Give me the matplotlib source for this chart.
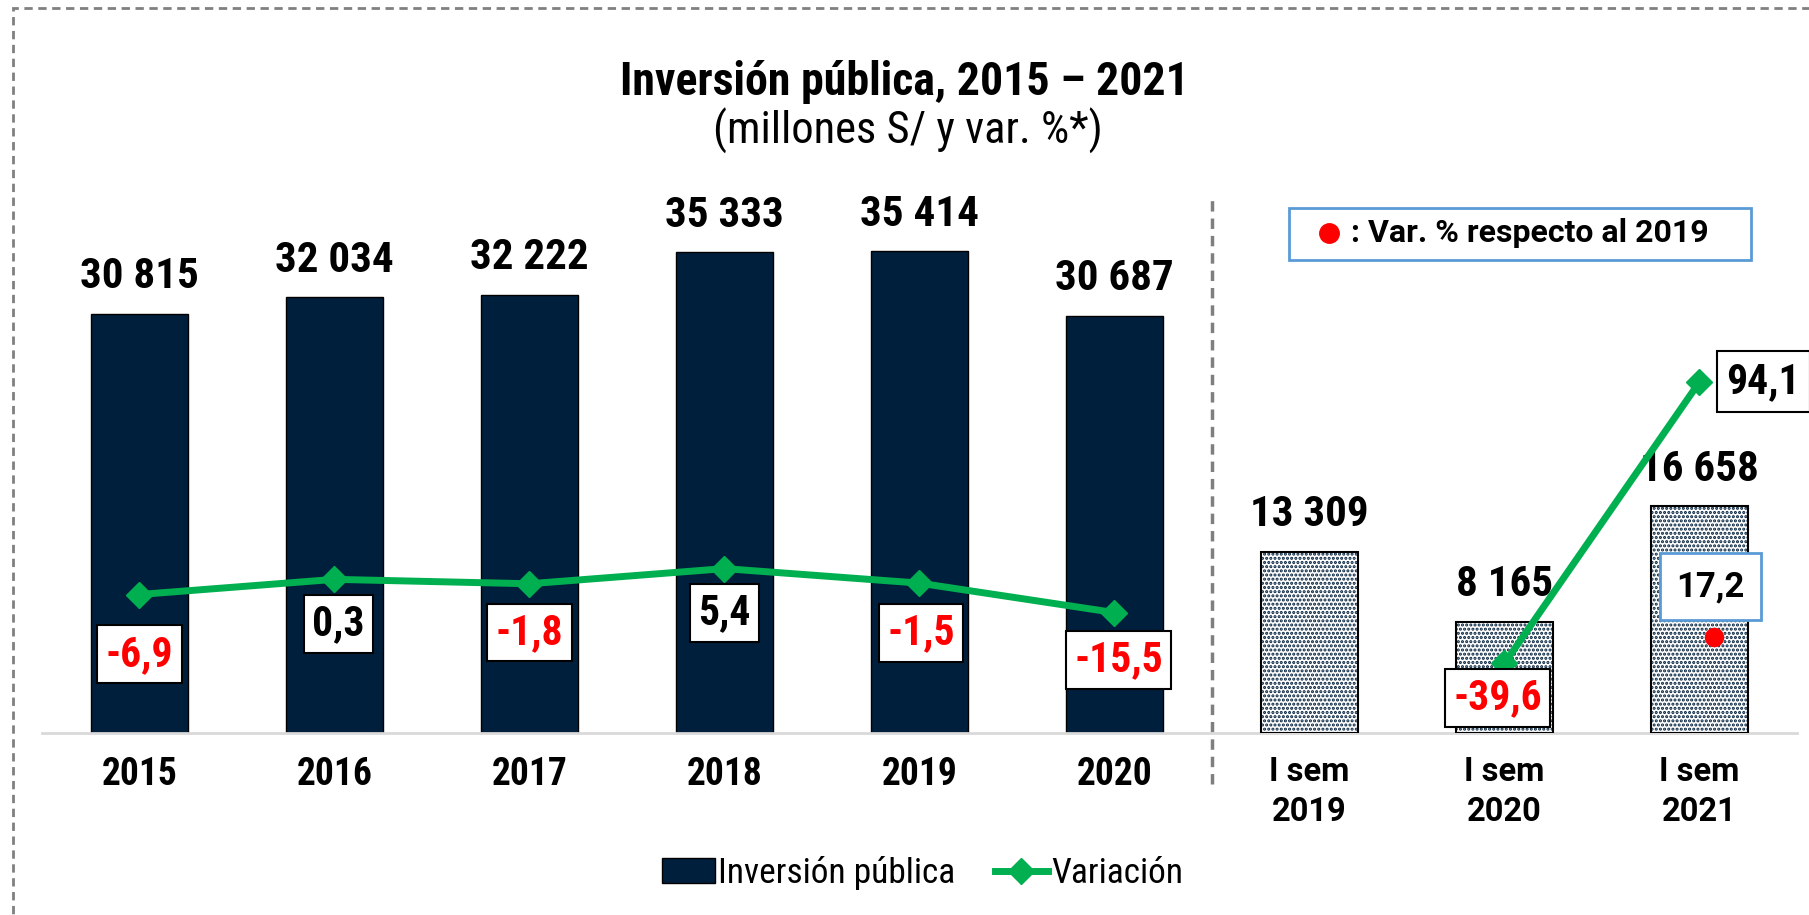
import matplotlib
matplotlib.use("Agg")
import matplotlib.pyplot as plt
from matplotlib import font_manager
from matplotlib.lines import Line2D
from matplotlib.patches import Patch, Rectangle
import matplotlib.transforms as mtransforms

# datos
periodos = ["2015", "2016", "2017", "2018", "2019", "2020",
            "I sem\n2019", "I sem\n2020", "I sem\n2021"]
inversion = [30815, 32034, 32222, 35333, 35414, 30687, 13309, 8165, 16658]
var_anual = [-6.9, 0.3, -1.8, 5.4, -1.5, -15.5]
var_sem = [-39.6, 94.1]          # I sem 2020, I sem 2021
var_vs_2019 = [17.2]             # I sem 2021 respecto a I sem 2019

names = {f.name for f in font_manager.fontManager.ttflist}
if "Roboto Condensed" in names:
    cond = "Roboto Condensed"
elif "Liberation Sans Narrow" in names:
    cond = "Liberation Sans Narrow"
else:
    cond = "Roboto"
plt.rcParams["font.family"] = [cond, "DejaVu Sans"]
wide = ["Roboto", "DejaVu Sans"]

navy = "#001F3C"
green = "#00B050"
red = "#FF0000"
blue_edge = "#5B9BD5"


def fmt_miles(v):
    return f"{v:,}".replace(",", " ")


def fmt_pct(v):
    return f"{v:.1f}".replace(".", ",")


fig = plt.figure(figsize=(18.09, 9.15), dpi=100)
ax = fig.add_axes([42 / 1809, 1 - 732.6 / 915, 1755 / 1809, 532.6 / 915])

n_anual = len(var_anual)
x = list(range(len(periodos)))
x_anual = x[:n_anual]
x_sem = x[n_anual:]

# barras anuales
ax.bar(x_anual, inversion[:n_anual], width=0.5, color=navy,
       edgecolor="black", linewidth=1, zorder=2)
# barras semestrales (punteadas)
plt.rcParams["hatch.linewidth"] = 1.5
ax.bar(x_sem, inversion[n_anual:], width=0.5, color="white",
       edgecolor=navy, hatch="....", linewidth=0, zorder=2)
ax.bar(x_sem, inversion[n_anual:], width=0.5, fill=False,
       edgecolor="black", linewidth=1.5, zorder=3)

for xi, v in zip(x, inversion):
    ax.annotate(fmt_miles(v), (xi, v), xytext=(0, 12), textcoords="offset points",
                ha="center", va="bottom", fontsize=31, fontweight="bold")

ax.set_xlim(-0.5, 8.5)
ax.set_ylim(0, 39190)
ax.set_yticks([])
for s in ["top", "right", "left"]:
    ax.spines[s].set_visible(False)
ax.spines["bottom"].set_color("#D9D9D9")
ax.spines["bottom"].set_linewidth(2)
ax.set_xticks(x)
ax.set_xticklabels(periodos)
ax.tick_params(axis="x", length=0, pad=17)
for i, lab in enumerate(ax.get_xticklabels()):
    lab.set_fontweight("bold")
    if i < n_anual:
        lab.set_fontsize(27)
    else:
        lab.set_fontsize(23.5)
        lab.set_family(wide)
        lab.set_linespacing(1.3)

# separador
trans = mtransforms.blended_transform_factory(ax.transData, ax.transAxes)
ax.plot([5.5, 5.5], [-0.097, 1.0], transform=trans, color="#7F7F7F",
        lw=2.5, ls=(0, (3, 2)), clip_on=False, zorder=1)

# variación
ax2 = ax.twinx()
ax2.set_ylim(-72.5, 180.5)
ax2.axis("off")
ax2.plot(x_anual, var_anual, color=green, lw=5, marker="D", ms=13, zorder=4)
ax2.plot(x_sem[1:], var_sem, color=green, lw=5, marker="D", ms=13, zorder=4)

box = dict(boxstyle="square,pad=0.2", fc="white", ec="black", lw=1.5)
offs = [(0, -43), (3, -32), (0, -35), (0, -32), (1, -36), (3, -34)]
for xi, v, o in zip(x_anual + x_sem[1:2], var_anual + var_sem[:1], offs + [(-5, -25)]):
    ax2.annotate(fmt_pct(v), (xi, v), xytext=o, textcoords="offset points",
                 ha="center", va="center", fontsize=30, fontweight="bold",
                 color=red if v < 0 else "black", zorder=6, bbox=box)
ax2.annotate(fmt_pct(var_sem[1]), (x_sem[2], var_sem[1]), xytext=(46, 0),
             textcoords="offset points", ha="center", va="center", fontsize=30,
             fontweight="bold", color="black", zorder=6,
             bbox=dict(boxstyle="square,pad=0.24", fc="white", ec="black", lw=1.5))

# variación respecto al 2019
ax3 = ax.twinx()
ax3.set_ylim(0, 95.4)
ax3.axis("off")
dot_off = mtransforms.offset_copy(ax3.transData, fig=fig, x=15, y=0, units="dots")
ax3.plot([x_sem[2]], var_vs_2019, "o", color=red, ms=13, transform=dot_off, zorder=5)
ax3.annotate(fmt_pct(var_vs_2019[0]), (x_sem[2], var_vs_2019[0]), xytext=(8, 36),
             textcoords="offset points", ha="center", va="center", fontsize=25,
             fontweight="bold", zorder=6, family=wide,
             bbox=dict(boxstyle="square,pad=0.48", fc="white", ec=blue_edge, lw=2))

# nota de la derecha
fig.patches.append(Rectangle((0.7124, 0.7163), 0.2557, 0.0567,
                             transform=fig.transFigure, fc="white",
                             ec=blue_edge, lw=2))
fig.lines.append(Line2D([0.7347], [0.7454], transform=fig.transFigure,
                        ls="none", marker="o", color=red, ms=14))
fig.text(0.7470, 0.7454, ": Var. % respecto al 2019", ha="left", va="center",
         fontsize=23, fontweight="bold", family=wide)

# leyenda inferior
h_bar = Patch(facecolor=navy, edgecolor="black", linewidth=1)
h_line = Line2D([], [], color=green, lw=5, marker="D", ms=13)
fig.legend([h_bar, h_line], ["Inversión pública", "Variación"], loc="center",
           bbox_to_anchor=(0.51, 0.046), ncol=2, frameon=False, fontsize=25.5,
           handlelength=1.5, handletextpad=0.1, columnspacing=1.1)

# títulos
fig.text(0.500, 1 - 82 / 915, "Inversión pública, 2015 – 2021", ha="center",
         va="center", fontsize=33, fontweight="bold")
fig.text(0.502, 1 - 131 / 915, "(millones S/ y var. %*)", ha="center",
         va="center", fontsize=32)

# marco punteado
fig.patches.append(Rectangle((12.7 / 1809, -0.05), 1.1, 1 - 8 / 915 + 0.05,
                             transform=fig.transFigure, fill=False,
                             ec="#808080", lw=2, ls=(0, (3, 2))))

fig.savefig("out.png", dpi=100)
